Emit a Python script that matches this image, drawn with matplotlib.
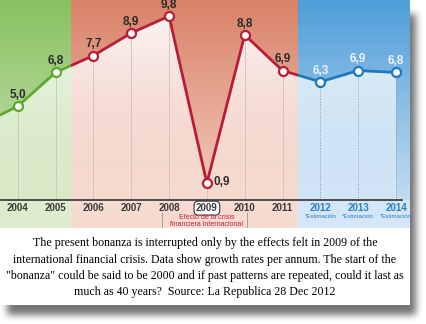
import numpy as np
import matplotlib.pyplot as plt
from matplotlib.patches import Rectangle

years = [2003, 2004, 2005, 2006, 2007, 2008, 2009, 2010, 2011, 2012, 2013, 2014]
growth = [4.0, 5.0, 6.8, 7.7, 8.9, 9.8, 0.9, 8.8, 6.9, 6.3, 6.9, 6.8]
shown_years = years[1:]
shown_growth = growth[1:]
estimate_years = [2012, 2013, 2014]
crisis_year = 2009
crisis_note = "Efecto de la crisis\nfinanciera internacional"
estimate_note = "*Estimación"
caption = ('The present bonanza is interrupted only by the effects felt in 2009 of the\n'
           'international financial crisis. Data show growth rates per annum. The start of the\n'
           '"bonanza" could be said to be 2000 and if past patterns are repeated, could it last as\n'
           'much as 40 years?  Source: La Republica 28 Dec 2012')

W, H = 426, 324
x_lo, x_hi = 2003.53, 2014.37
y_lo, y_hi = -1.49, 10.66

# bands: start, end, line colour, top colour, bottom colour, base colour, label colour
bands = [
    (x_lo, 2005.42, '#5ea830', (0.53, 0.76, 0.38), (0.80, 0.89, 0.70), (0.86, 0.93, 0.80), '#2b2b2b'),
    (2005.42, 2011.42, '#b81d38', (0.85, 0.51, 0.41), (0.95, 0.80, 0.74), (0.97, 0.86, 0.82), '#2b2b2b'),
    (2011.42, x_hi, '#1f78bd', (0.31, 0.62, 0.85), (0.76, 0.86, 0.95), (0.83, 0.90, 0.97), '#eaf3fb'),
]


def band_of(x):
    for b in bands:
        if b[0] <= x < b[1]:
            return b
    return bands[-1]


fig = plt.figure(figsize=(W / 100, H / 100), dpi=100)

# paper + soft drop shadow
bg = fig.add_axes([0, 0, 1, 1])
bg.axis('off')
mask = np.zeros((H, W))
mask[14:305 + 10, 7:410 + 6] = 1
k = np.ones(7) / 7
for _ in range(3):
    mask = np.apply_along_axis(lambda r: np.convolve(r, k, mode='same'), 1, mask)
    mask = np.apply_along_axis(lambda c: np.convolve(c, k, mode='same'), 0, mask)
shadow = np.zeros((H, W, 4))
shadow[..., 3] = 0.55 * mask
bg.imshow(shadow, extent=[0, W, H, 0], interpolation='bilinear')
bg.add_patch(Rectangle((0, 0), 410, 305, facecolor='white', edgecolor='none'))
bg.set_xlim(0, W)
bg.set_ylim(H, 0)

ax = fig.add_axes([0, 1 - 228 / H, 410 / W, 228 / H])

for x0, x1, lc, top, bot, base, tc in bands:
    grad = np.linspace(top, bot, 64)[:, None, :]
    ax.imshow(grad, extent=[x0, x1, 0, y_hi], aspect='auto', interpolation='bilinear', zorder=0)
    ax.add_patch(Rectangle((x0, y_lo), x1 - x0, -y_lo, facecolor=base, edgecolor='none', zorder=0))

# white glow under the curve
under = ax.fill_between(years, growth, 0, facecolor='none', edgecolor='none')
glow = np.ones((64, 1, 4))
glow[..., 3] = np.linspace(0.97, 0.3, 64)[:, None]
im = ax.imshow(glow, extent=[x_lo, x_hi, 0, y_hi], aspect='auto', interpolation='bilinear', zorder=1)
im.set_clip_path(under.get_paths()[0], transform=ax.transData)

# drop lines
for x, v in zip(shown_years, shown_growth):
    if x in estimate_years:
        ax.vlines(x, 0, v, color='#8f99a5', lw=0.7, ls=':', zorder=2)
    else:
        ax.vlines(x, 0, v, color='#cfc7c2', lw=0.7, zorder=2)

# line, coloured by period
for x0, x1, lc, top, bot, base, tc in bands:
    ln, = ax.plot(years, growth, color=lc, lw=2.0, zorder=3)
    ln.set_clip_path(Rectangle((x0, y_lo), x1 - x0, y_hi - y_lo, transform=ax.transData))

for x, v in zip(shown_years, shown_growth):
    b = band_of(x)
    ax.plot(x, v, 'o', mfc='white', mec=b[2], ms=6.5, mew=1.6, zorder=4)
    lbl = f"{v:.1f}".replace('.', ',')
    if x == crisis_year:
        ax.annotate(lbl, (x, v), xytext=(5, 0.5), textcoords='offset points', ha='left', va='center',
                    fontsize=8.5, fontweight='bold', color=b[6], family='Liberation Sans', zorder=5)
    else:
        ax.annotate(lbl, (x, v), xytext=(0, 8.0), textcoords='offset points', ha='center', va='center',
                    fontsize=8.5, fontweight='bold', color=b[6], family='Liberation Sans', zorder=5)

ax.axhline(0, xmin=0, xmax=(2014.17 - x_lo) / (x_hi - x_lo), color='#333333', lw=1.2, zorder=3)

narrow = ['Liberation Sans Narrow', 'Liberation Sans']
for x in shown_years:
    col = '#2a80c5' if x in estimate_years else '#3a3a3a'
    kw = {}
    if x == crisis_year:
        kw['bbox'] = dict(boxstyle='round,pad=0.2,rounding_size=0.45', fc='white', ec='#333333', lw=0.8)
    ax.text(x, -0.43, str(x), ha='center', va='center', fontsize=7, fontweight='bold',
            color=col, family=narrow, zorder=5, **kw)
    if x in estimate_years:
        ax.text(x, -0.86, estimate_note, ha='center', va='center', fontsize=4.3,
                color='#2a80c5', family=narrow, zorder=5)

ax.text(crisis_year, -1.12, crisis_note, ha='center', va='center', fontsize=5.0,
        color='#c0203a', family=narrow, linespacing=0.95, zorder=5)
ax.vlines([2007.8, 2010.05], y_lo, -0.62, color='#9a9a9a', lw=0.6, zorder=2)

ax.set_xlim(x_lo, x_hi)
ax.set_ylim(y_lo, y_hi)
ax.axis('off')

fig.text(205 / W, 1 - 237 / H, caption, ha='center', va='top', fontsize=8.55,
         family='Liberation Serif', linespacing=1.5, multialignment='center')

fig.savefig('out.png', dpi=100)
